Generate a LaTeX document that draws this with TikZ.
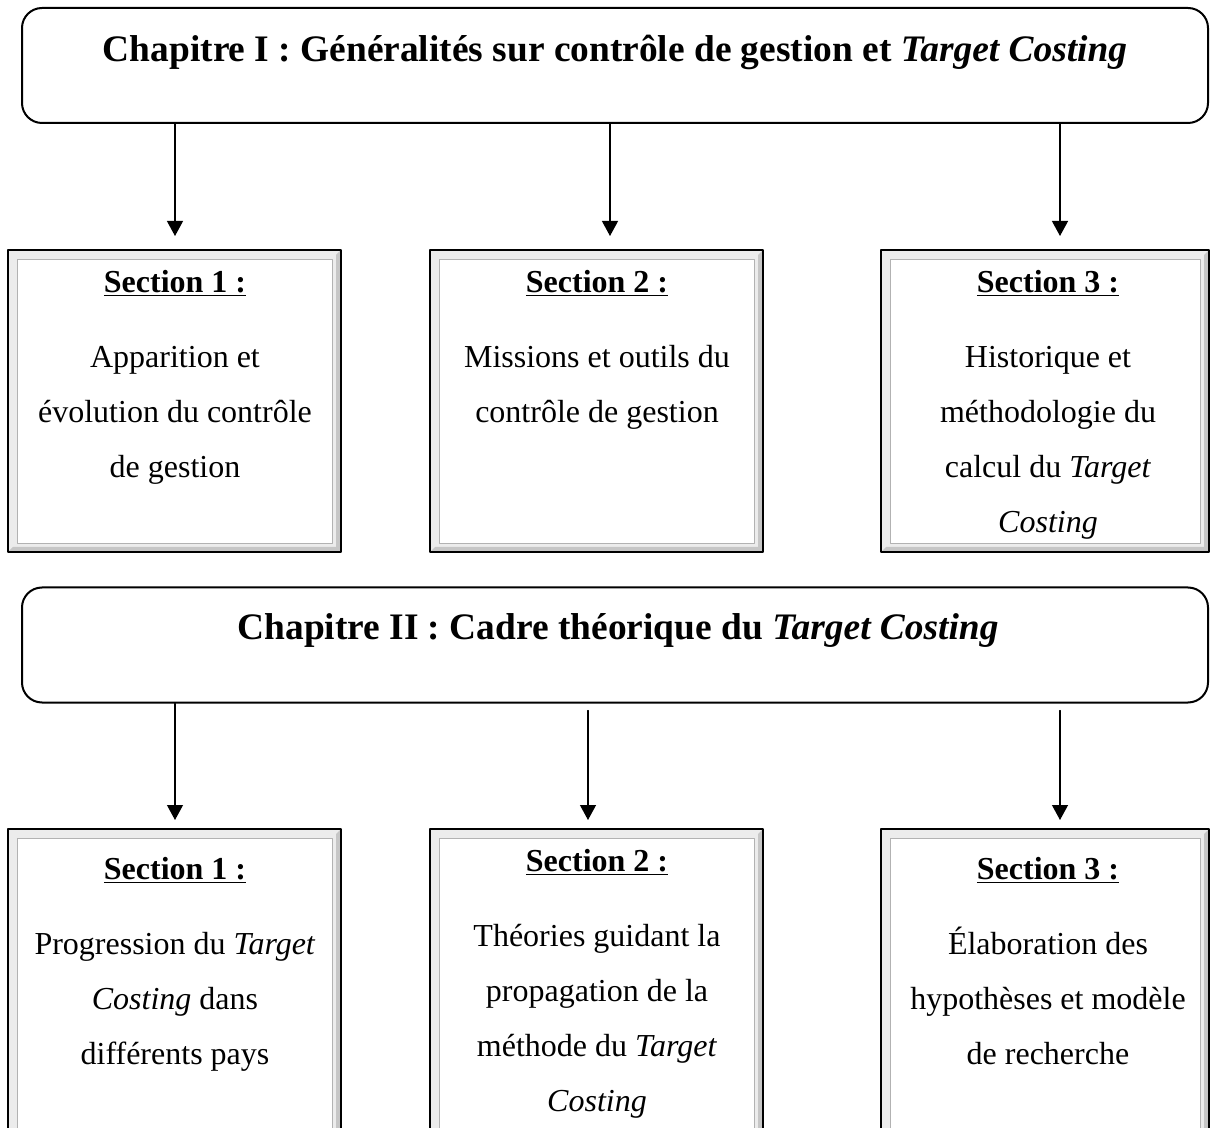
\documentclass[tikz,border=0pt]{standalone}
\usepackage{fontspec}
\setmainfont{Liberation Serif}
\usetikzlibrary{arrows.meta}
\begin{document}
\begin{tikzpicture}[x=.5pt,y=-.5pt,line cap=round,line join=round,
    chap/.style={draw,line width=1pt,rounded corners=10pt,inner sep=0,minimum width=593pt,minimum height=57.5pt},
    ttl/.style={font=\fontsize{18.7}{24}\selectfont\bfseries,inner sep=0},
    txt/.style={align=center,font=\fontsize{16}{27.5}\selectfont,inner sep=0,anchor=north},
    arr/.style={-{Triangle[length=7.5pt,width=8pt]},line width=.6pt}]
    \useasboundingbox(0,0)rectangle(1211,1128);
    \node[chap](ch1)at(615,65.5){};
    \node[ttl](ch1t)at(615,52){Chapitre I : Généralités sur contrôle de gestion et \textit{Target Costing}};
    \node[chap](ch2)at(615,645){};
    \node[ttl](ch2t)at(618,630){Chapitre II : Cadre théorique du \textit{Target Costing}};
    \foreach \n/\a/\b/\c/\d in{s11/8/250/341/552,s12/430/250/763/552,s13/881/250/1209/552,s21/8/829/341/1140,s22/430/829/763/1140,s23/881/829/1209/1140}{
        \fill[gray!15](\a,\b)rectangle(\c,\d);
        \fill[gray!45](\c,\b)--(\c,\d)--(\a,\d)--(\a+5,\d-5)--(\c-5,\d-5)--(\c-5,\b+5)--cycle;
        \fill[white](\a+9,\b+9)rectangle(\c-9,\d-9);
        \draw[gray!60,line width=.3pt](\a+9,\b+9)rectangle(\c-9,\d-9);
        \draw[line width=1.2pt](\a,\b)rectangle(\c,\d);
        \coordinate(\n)at({(\a+\c)/2},\b);
    }
    \foreach \n/\x/\y/\s/\txt in{
        t11/175/270/1/{Apparition et\\évolution du contrôle\\de gestion},
        t12/597/270/2/{Missions et outils du\\contrôle de gestion},
        t13/1048/270/3/{Historique et\\méthodologie du\\calcul du \textit{Target}\\\textit{Costing}},
        t21/175/857/1/{Progression du \textit{Target}\\\textit{Costing} dans\\différents pays},
        t22/597/849/2/{Théories guidant la\\propagation de la\\méthode du \textit{Target}\\\textit{Costing}},
        t23/1048/857/3/{Élaboration des\\hypothèses et modèle\\de recherche}}
    \node[txt](\n)at(\x,\y){\underline{\textbf{Section \s\ :}}\\[10pt]\txt};
    \foreach \n/\x in{a11/175,a12/610,a13/1060}{
        \coordinate(\n)at(\x,236);
        \draw[arr](ch1.south-|\n)--(\n);
    }
    \foreach \n/\x/\y in{a21/175/0,a22/588/3.5,a23/1060/3.5}{
        \coordinate(\n)at(\x,820);
        \draw[arr,shorten <=\y pt](ch2.south-|\n)--(\n);
    }
\end{tikzpicture}
\end{document}
